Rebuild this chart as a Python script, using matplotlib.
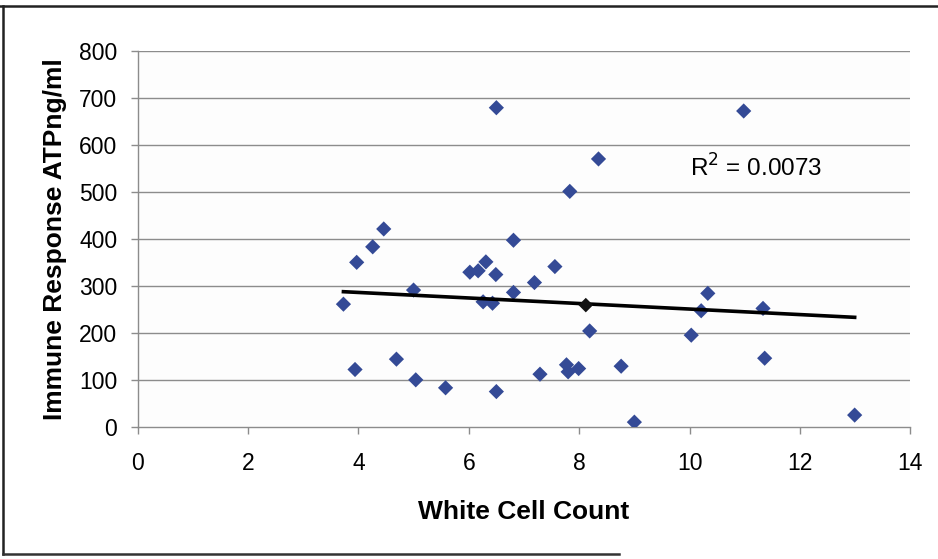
import numpy as np
import matplotlib.pyplot as plt
from matplotlib.lines import Line2D

# values
white_cells = [6.50, 4.46, 4.26, 3.97, 6.81, 6.02, 6.17, 6.31, 6.49, 5.00,
               3.73, 6.26, 6.43, 6.81, 3.94, 4.69, 5.04, 5.58, 6.50,
               10.98, 8.35, 7.83, 7.56, 7.19, 8.19, 10.33, 10.21, 10.03,
               11.33, 11.36, 7.29, 7.77, 7.80, 7.99, 8.76, 9.00, 12.99]
immune_atp = [680, 422, 384, 351, 398, 330, 333, 352, 325, 292,
              262, 267, 264, 287, 123, 145, 101, 84, 76,
              673, 571, 502, 342, 308, 205, 285, 248, 196,
              253, 147, 113, 133, 118, 125, 130, 11, 26]

# one point drawn dark, sitting on the trendline
dark_x = [8.12]
dark_y = [260]

# linear trendline
trend_slope = -5.89
trend_intercept = 310.5
r_squared = "0.0073"

x_ticks = [0, 2, 4, 6, 8, 10, 12, 14]
y_ticks = [0, 100, 200, 300, 400, 500, 600, 700, 800]

plt.rcParams['font.family'] = ['Liberation Sans', 'DejaVu Sans']

fig = plt.figure(figsize=(9.38, 5.59), dpi=100)
ax = fig.add_axes([0.1466, 0.2356, 0.824, 0.6726])
ax.set_facecolor('#fdfdfd')

for y in y_ticks[1:]:
    ax.axhline(y, color='#8c8c8c', linewidth=1.0, zorder=1)

ax.scatter(white_cells, immune_atp, marker='D', s=60, color='#344a96',
           edgecolors='none', zorder=3)
ax.scatter(dark_x, dark_y, marker='D', s=55, color='#111111',
           edgecolors='none', zorder=4)

tx = np.array([min(white_cells), max(white_cells)])
ax.plot(tx, trend_slope * tx + trend_intercept, color='black', linewidth=2.6, zorder=3)

ax.text(11.2, 552, f"R$^2$ = {r_squared}", fontsize=17.5, ha='center', va='center')

ax.set_xlim(0, 14)
ax.set_ylim(0, 800)
ax.set_xticks(x_ticks)
ax.set_yticks(y_ticks)
ax.tick_params(axis='both', labelsize=16.5, color='#8c8c8c', length=5, width=1,
               direction='out')
ax.tick_params(axis='x', pad=13)
ax.tick_params(axis='y', pad=9.5)
for side in ['top', 'right']:
    ax.spines[side].set_visible(False)
for side in ['left', 'bottom']:
    ax.spines[side].set_color('#8c8c8c')
    ax.spines[side].set_linewidth(1.0)

ax.set_xlabel("White Cell Count", fontsize=19, fontweight='bold', labelpad=18)
ax.set_ylabel("Immune Response ATPng/ml", fontsize=19, fontweight='bold', labelpad=9)

# scanned frame: top, left and part of the bottom edge
fig.add_artist(Line2D([0, 1], [0.989, 0.989], color='#222222', linewidth=1.8))
fig.add_artist(Line2D([0.0035, 0.0035], [0.009, 0.989], color='#222222', linewidth=1.8))
fig.add_artist(Line2D([0.0035, 0.66], [0.009, 0.009], color='#333333', linewidth=1.8))

fig.savefig('out.png', dpi=100)
